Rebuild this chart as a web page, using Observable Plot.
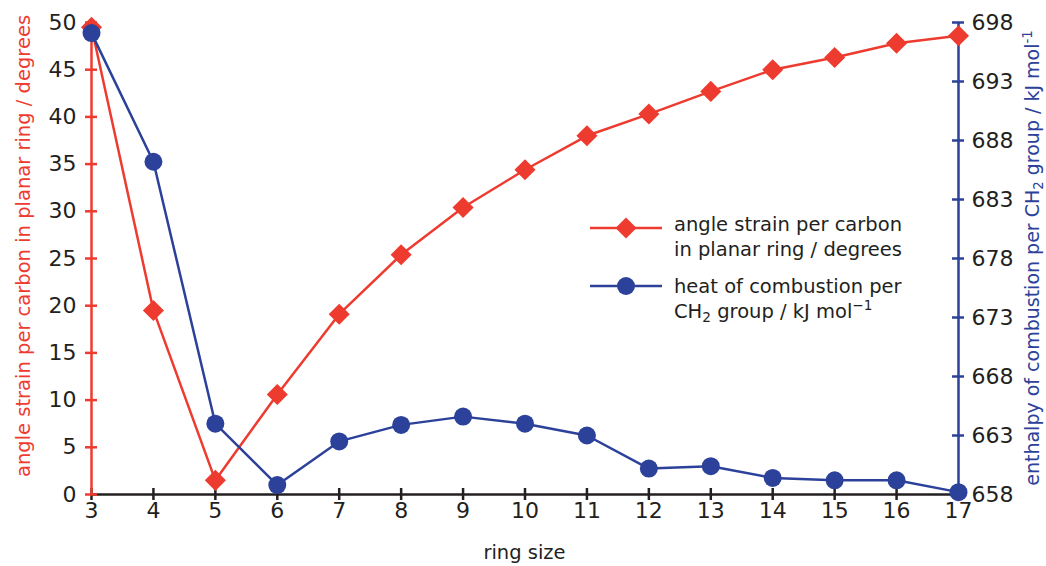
<!DOCTYPE html>
<html><head><meta charset="utf-8">
<script src="https://cdn.jsdelivr.net/npm/d3@7"></script>
<script src="https://cdn.jsdelivr.net/npm/@observablehq/plot@0.6"></script>
<style>
body{margin:0;background:#fff}
#chart{position:relative;width:1046px;height:566px}
</style>
</head><body><div id="chart"></div>
<script>
// ---- data ----
const ringSize = [3,4,5,6,7,8,9,10,11,12,13,14,15,16,17];
const angleStrain = [49.5,19.5,1.5,10.6,19.1,25.4,30.4,34.4,38.0,40.3,42.7,45.0,46.3,47.8,48.6];
const heatOfCombustion = [697.1,686.2,664.0,658.8,662.5,663.9,664.6,664.0,663.0,660.2,660.4,659.4,659.2,659.2,658.2];
const leftTicks = [0,5,10,15,20,25,30,35,40,45,50];
const rightTicks = [658,663,668,673,678,683,688,693,698];
const xTicks = ringSize;

const legendLabels = [
  ["angle strain per carbon", "in planar ring / degrees"],
  ["heat of combustion per", "CH|2| group / kJ mol|−1"]
];
const leftLabel = "angle strain per carbon in planar ring / degrees";
const xLabel = "ring size";

// ---- styles ----
const RED = "#ee3b30", BLUE = "#2c419a", INK = "#231f20";
const FONT = "DejaVu Sans, Liberation Sans, sans-serif";
const hMin = 658, hMax = 698, lMax = 50;
const toLeft = h => (h - hMin) / (hMax - hMin) * lMax;
const fromLeft = v => Math.round(v / lMax * (hMax - hMin) + hMin);

const strainData = ringSize.map((n, i) => ({n, v: angleStrain[i]}));
const heatData = ringSize.map((n, i) => ({n, v: toLeft(heatOfCombustion[i])}));
const xMin = ringSize[0], xMax = ringSize[ringSize.length - 1];
const tickFont = 22;

const plot = Plot.plot({
  width: 1046, height: 566,
  marginLeft: 91, marginRight: 88, marginTop: 22, marginBottom: 72,
  style: {fontFamily: FONT, fontSize: tickFont + "px", color: INK, background: "#fff", overflow: "visible"},
  x: {domain: [xMin, xMax]},
  y: {domain: [0, lMax]},
  marks: [
    // x axis
    Plot.ruleY([0], {stroke: INK, strokeWidth: 2.5}),
    Plot.ruleX(xTicks, {x: d => d, y1: 0, y2: 0, insetTop: -6, insetBottom: -6, stroke: INK, strokeWidth: 2.5}),
    Plot.axisX({ticks: xTicks, tickSize: 0, tickPadding: 8, fill: INK, fontSize: tickFont, label: null}),
    // left axis
    Plot.ruleX([xMin], {stroke: RED, strokeWidth: 2.5}),
    Plot.ruleY(leftTicks, {y: d => d, x1: () => xMin, x2: () => xMin, insetLeft: -6, insetRight: -6, stroke: RED, strokeWidth: 2.5}),
    Plot.axisY({anchor: "left", ticks: leftTicks, tickSize: 0, tickPadding: 15, fill: INK, fontSize: tickFont, label: null}),
    // right axis
    Plot.ruleX([xMax], {stroke: BLUE, strokeWidth: 2.5}),
    Plot.ruleY(rightTicks.map(toLeft), {y: d => d, x1: () => xMax, x2: () => xMax, insetLeft: -6, insetRight: -6, stroke: BLUE, strokeWidth: 2.5}),
    Plot.axisY({anchor: "right", ticks: rightTicks.map(toLeft), tickFormat: fromLeft, tickSize: 0, tickPadding: 13, fill: INK, fontSize: tickFont, label: null}),
    // series
    Plot.line(strainData, {x: "n", y: "v", stroke: RED, strokeWidth: 2.5}),
    Plot.dot(strainData, {x: "n", y: "v", symbol: "diamond2", r: 9.5, fill: RED, stroke: "none"}),
    Plot.line(heatData, {x: "n", y: "v", stroke: BLUE, strokeWidth: 2.5}),
    Plot.dot(heatData, {x: "n", y: "v", r: 9, fill: BLUE, stroke: "none"})
  ]
});
document.getElementById("chart").appendChild(plot);

// ---- labels & legend ----
const svg = d3.select(plot);
const sx = plot.scale("x"), sy = plot.scale("y");
const x0 = sx.apply(xMin), x1 = sx.apply(xMax), yb = sy.apply(0), yt = sy.apply(lMax);

function addRich(sel, str, base) {
  const parts = str.split("|");
  parts.forEach((p, i) => {
    const t = sel.append("tspan").text(p);
    if (i % 2 === 1) {
      const sup = p.startsWith("−") || p.startsWith("-");
      t.attr("font-size", base * 0.7).attr("dy", sup ? -base * 0.38 : base * 0.22);
    } else if (i > 0) {
      const prev = parts[i - 1];
      const sup = prev.startsWith("−") || prev.startsWith("-");
      t.attr("dy", sup ? base * 0.38 : -base * 0.22);
    }
  });
}

const labelSize = 19.5;
svg.append("text")
  .attr("transform", `translate(30,${(yt + yb) / 2 - 12}) rotate(-90)`)
  .attr("text-anchor", "middle").attr("fill", RED)
  .attr("font-family", FONT).attr("font-size", labelSize)
  .text(leftLabel);

const rl = svg.append("text")
  .attr("transform", `translate(1039,${(yt + yb) / 2}) rotate(-90)`)
  .attr("text-anchor", "middle").attr("fill", BLUE)
  .attr("font-family", FONT).attr("font-size", 19);
addRich(rl, "enthalpy of combustion per CH|2| group / kJ mol|-1", 19);

svg.append("text")
  .attr("x", (x0 + x1) / 2).attr("y", 559)
  .attr("text-anchor", "middle").attr("fill", INK)
  .attr("font-family", FONT).attr("font-size", labelSize)
  .text(xLabel);

// legend
const legendItems = [
  {color: RED, symbol: d3.symbolDiamond2, y: 228, labels: legendLabels[0], ty: 230.5},
  {color: BLUE, symbol: d3.symbolCircle, y: 286, labels: legendLabels[1], ty: 292.5}
];
const lg = svg.append("g").attr("text-anchor", "start");
legendItems.forEach(it => {
  lg.append("line").attr("x1", 590).attr("x2", 662).attr("y1", it.y).attr("y2", it.y)
    .attr("stroke", it.color).attr("stroke-width", 2.5);
  lg.append("path").attr("transform", `translate(626,${it.y})`)
    .attr("d", d3.symbol(it.symbol, it.symbol === d3.symbolCircle ? Math.PI * 81 : Math.PI * 90)())
    .attr("fill", it.color);
  it.labels.forEach((s, j) => {
    const t = lg.append("text").attr("x", 674).attr("y", it.ty + j * 25)
      .attr("text-anchor", "start")
      .attr("fill", INK).attr("font-family", FONT).attr("font-size", labelSize);
    addRich(t, s, labelSize);
  });
});
</script>
</body></html>
